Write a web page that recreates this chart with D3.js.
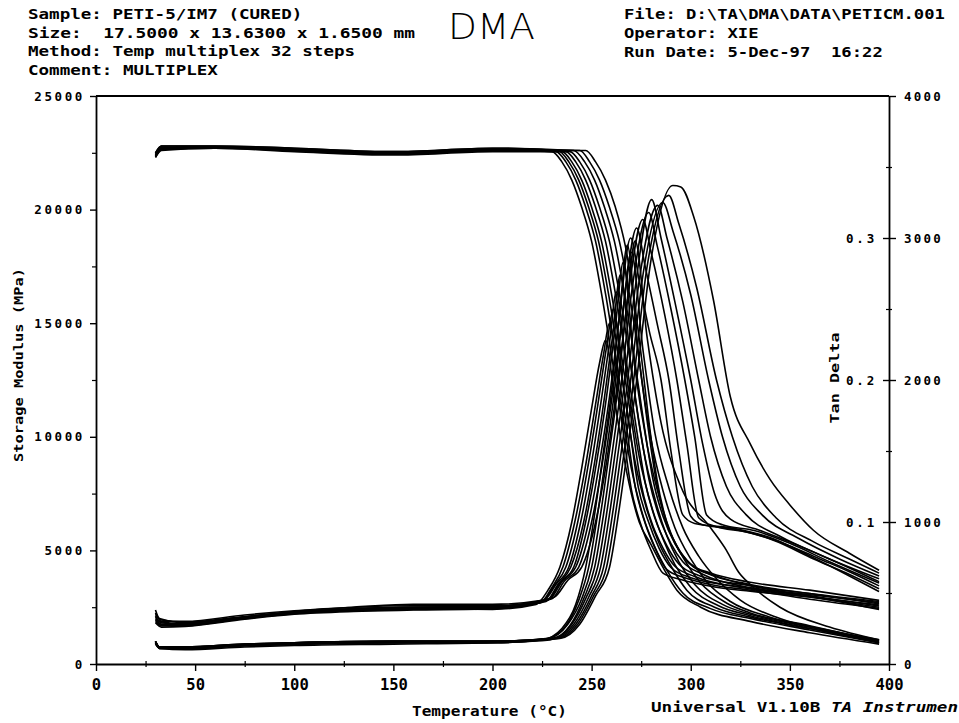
<!DOCTYPE html>
<html>
<head>
<meta charset="utf-8">
<script src="https://cdn.jsdelivr.net/npm/d3@7"></script>
<style>
body { margin: 0; background: #fff; }
svg { display: block; background: #fff; }
text { font-family: "DejaVu Sans Mono", "Liberation Mono", monospace; font-weight: bold; fill: #000; white-space: pre; }
</style>
</head>
<body>
<svg id="chart"></svg>
<script>
// axis ticks
var tempTicks = [0, 50, 100, 150, 200, 250, 300, 350, 400];
var modulusTicks = [0, 5000, 10000, 15000, 20000, 25000];
var lossTicks = [0, 1000, 2000, 3000, 4000];
var tanTicks = [0.1, 0.2, 0.3];

var headerLeft = ["Sample: PETI-5/IM7 (CURED)", "Size:  17.5000 x 13.6300 x 1.6500 mm", "Method: Temp multiplex 32 steps", "Comment: MULTIPLEX"];
var headerRight = ["File: D:\\TA\\DMA\\DATA\\PETICM.001", "Operator: XIE", "Run Date: 5-Dec-97  16:22"];

// storage modulus, [temp C, MPa] (left axis)
var storage1 = [[30,22400],[33,22700],[60,22750],[100,22650],[150,22500],[200,22650],[230,22550],[235,22100],[240,21300],[245,20100],[250,18600],[255,16300],[260,13600],[265,10800],[270,7700],[275,6100],[280,5000],[286,4000],[295,3720],[310,3420],[330,3200],[360,2950],[395,2600]];
var storage2 = [[30,22300],[33,22650],[60,22700],[100,22600],[150,22450],[200,22600],[232,22550],[237,22100],[242,21300],[247,20100],[252,18600],[257,16300],[262,13600],[267,10800],[272,7800],[277,6200],[282,5100],[288,4150],[297,3800],[310,3500],[330,3250],[360,2850],[395,2450]];
var storage3 = [[30,22500],[33,22800],[60,22800],[100,22700],[150,22550],[200,22700],[233,22600],[238.5,22100],[243.5,21300],[248.5,20100],[253.5,18600],[258.5,16300],[263.5,13600],[268.5,10800],[273.5,7800],[278.5,6300],[284,5100],[290,4250],[300,3800],[330,3350],[360,3050],[395,2700]];
var storage4 = [[30,22350],[33,22650],[60,22700],[100,22550],[150,22400],[200,22550],[235,22550],[240,22100],[245,21300],[250,20100],[255,18600],[260,16300],[265,13600],[270,10800],[275,7900],[280,6300],[286,5100],[292,4300],[302,3850],[330,3300],[360,2950],[395,2500]];
var storage5 = [[30,22450],[33,22750],[60,22750],[100,22650],[150,22500],[200,22650],[237,22550],[242,22100],[247,21300],[252,20100],[257,18600],[262,16300],[267,13600],[272,10700],[277,8000],[282,6400],[288,5200],[294,4400],[304,3900],[330,3450],[360,3100],[395,2750]];
var storage6 = [[30,22300],[33,22600],[60,22700],[100,22600],[150,22450],[200,22600],[239,22550],[244,22100],[249,21300],[254,20100],[259,18600],[264,16300],[269,13600],[274,10600],[279,8100],[284,6500],[290,5300],[296,4500],[306,3950],[330,3350],[360,3000],[395,2550]];
var storage7 = [[30,22500],[33,22800],[60,22800],[100,22700],[150,22550],[200,22700],[241,22600],[246.5,22100],[251.5,21300],[256.5,20100],[261.5,18600],[266.5,16300],[271.5,13500],[276.5,10500],[281,8100],[286,6500],[292,5300],[298,4550],[308,4000],[330,3500],[360,3100],[395,2650]];
var storage8 = [[30,22400],[33,22700],[60,22750],[100,22650],[150,22500],[200,22650],[244,22600],[249,22100],[254,21300],[259,20100],[264,18600],[269,16300],[273.5,13700],[278,10700],[282.5,8100],[287,6400],[293,5200],[300,4400],[310,4000],[330,3600],[360,3250],[395,2800]];
var storage9 = [[30,22350],[33,22700],[60,22750],[100,22600],[150,22450],[200,22600],[247,22600],[252,22100],[257,21300],[262,20100],[267,18400],[271,16300],[275,13600],[279,10600],[283,8100],[288,6200],[294,5000],[301,4300],[312,3900],[330,3450],[360,3000],[395,2400]];

// loss modulus, [temp C, MPa] (right axis)
var loss1 = [[30,380],[32,320],[45,290],[75,330],[100,360],[130,380],[160,390],[200,385],[222,420],[228,520],[234,683],[240,1000],[245,1380],[250,1800],[254,2120],[257,2280],[262,1820],[268,1330],[274,1000],[280,840],[286,680],[293,520],[305,400],[330,300],[360,220],[395,140]];
var loss2 = [[30,340],[32,300],[45,280],[75,320],[100,365],[130,390],[160,400],[200,400],[224,430],[230,540],[235.5,683],[241.5,1000],[247,1400],[252,1830],[256,2180],[259,2400],[264,1900],[270,1380],[276,1040],[282,820],[288,660],[296,500],[310,390],[330,320],[360,240],[395,150]];
var loss3 = [[30,300],[33,270],[45,270],[75,330],[100,370],[130,400],[160,410],[200,410],[225,440],[231,550],[237,683],[243,1000],[248.5,1420],[253.5,1860],[257.5,2230],[261,2500],[266,1960],[272,1420],[278,1080],[284,850],[290,690],[298,520],[312,400],[330,330],[360,250],[395,160]];
var loss4 = [[30,360],[33,300],[45,300],[75,345],[100,375],[130,400],[160,420],[200,420],[226,450],[232,560],[238.5,683],[244.5,1000],[250,1420],[255,1870],[259,2260],[262.5,2620],[268,2000],[274,1460],[280,1120],[286,880],[292,700],[300,540],[314,410],[330,340],[360,250],[395,150]];
var loss5 = [[30,310],[33,280],[45,285],[75,330],[100,360],[130,380],[160,390],[200,395],[227,440],[233,560],[239.5,683],[246,1000],[251.5,1420],[256.5,1880],[260.5,2300],[264.5,2740],[270,2080],[276,1520],[282,1160],[288,900],[294,720],[302,560],[316,420],[330,350],[360,260],[395,165]];
var loss6 = [[30,330],[33,290],[45,275],[75,320],[100,355],[130,375],[160,385],[200,390],[228,450],[234,570],[241,683],[247,1000],[252.5,1420],[257.5,1880],[262,2380],[266,2830],[271.5,2120],[278,1540],[284,1180],[290,920],[297,730],[305,570],[318,430],[330,360],[360,270],[395,160]];
var loss7 = [[30,350],[33,310],[45,295],[75,335],[100,365],[130,390],[160,400],[200,405],[229,460],[235,580],[242,683],[248.5,1000],[254,1420],[259,1880],[264,2450],[268,2950],[273.5,2200],[280,1580],[286,1220],[292,960],[300,740],[308,580],[320,440],[340,330],[365,250],[395,170]];
var loss8 = [[30,290],[33,260],[45,265],[75,315],[100,350],[130,370],[160,380],[200,390],[230,460],[236,580],[243.5,683],[250,1000],[255.5,1420],[260.5,1900],[265.5,2450],[270,2900],[276,2200],[282,1620],[289,1240],[296,960],[304,760],[313,600],[325,450],[345,320],[370,230],[395,155]];
var loss9 = [[30,320],[33,280],[45,280],[75,325],[100,360],[130,385],[160,400],[200,405],[231,470],[238,590],[245,683],[252,1000],[257.5,1420],[262.5,1920],[267.5,2500],[272,2980],[278,2300],[285,1700],[295,1250],[310,960],[318,800],[324,650],[330,560],[345,400],[370,260],[395,170]];

// tan delta, [temp C, tan d] (right inner axis)
var tan1 = [[30,0.016],[32,0.012],[45,0.011],[75,0.013],[100,0.014],[150,0.015],[200,0.015],[225,0.017],[235,0.025],[242,0.042],[247,0.068],[252,0.11],[256,0.15],[259.5,0.186],[264,0.245],[269.7,0.300],[274,0.27],[279,0.235],[285,0.20],[290,0.15],[296,0.105],[302,0.099],[320,0.096],[340,0.089],[360,0.076],[380,0.062],[395,0.051]];
var tan2 = [[30,0.015],[32,0.011],[45,0.011],[75,0.013],[100,0.014],[150,0.016],[200,0.016],[227,0.018],[237,0.027],[243.5,0.045],[248.5,0.068],[253.5,0.11],[257.5,0.15],[261,0.186],[266,0.25],[272.7,0.307],[277,0.28],[283,0.24],[289,0.20],[294,0.15],[300,0.104],[306,0.098],[322,0.095],[342,0.087],[362,0.074],[380,0.063],[395,0.053]];
var tan3 = [[30,0.0155],[32,0.012],[45,0.012],[75,0.014],[100,0.015],[150,0.016],[200,0.016],[228,0.018],[238,0.028],[245,0.046],[250,0.068],[255,0.11],[259,0.15],[262.5,0.186],[268,0.255],[275.8,0.313],[280,0.29],[287,0.245],[293,0.20],[298,0.155],[304,0.103],[312,0.097],[328,0.093],[345,0.086],[365,0.074],[380,0.065],[395,0.055]];
var tan4 = [[30,0.014],[32,0.011],[45,0.010],[75,0.012],[100,0.013],[150,0.014],[200,0.015],[229,0.017],[239,0.027],[246,0.046],[251.5,0.068],[256.5,0.11],[260.5,0.15],[264,0.186],[270,0.26],[278.8,0.318],[283,0.295],[290,0.25],[297,0.20],[302,0.16],[308,0.105],[316,0.098],[332,0.094],[350,0.085],[370,0.072],[395,0.057]];
var tan5 = [[30,0.016],[32,0.012],[45,0.012],[75,0.013],[100,0.015],[150,0.016],[200,0.016],[230,0.018],[240,0.028],[247,0.046],[253,0.068],[258,0.11],[262,0.15],[265.5,0.186],[272,0.265],[280.3,0.327],[285,0.30],[292,0.255],[300,0.20],[306,0.155],[312,0.12],[320,0.102],[335,0.094],[350,0.086],[370,0.074],[395,0.058]];
var tan6 = [[30,0.015],[32,0.012],[45,0.011],[75,0.013],[100,0.014],[150,0.015],[200,0.015],[231,0.018],[241,0.028],[248.5,0.047],[254.5,0.068],[259.5,0.11],[263.5,0.15],[267,0.186],[274,0.27],[283.3,0.323],[288,0.30],[296,0.255],[304,0.20],[310,0.16],[318,0.125],[328,0.105],[345,0.09],[365,0.077],[395,0.060]];
var tan7 = [[30,0.0155],[32,0.012],[45,0.012],[75,0.014],[100,0.015],[150,0.016],[200,0.016],[232,0.018],[242,0.028],[250,0.048],[256,0.068],[261,0.11],[265,0.15],[268.5,0.186],[276,0.275],[285.9,0.325],[291,0.305],[300,0.26],[309,0.20],[316,0.16],[325,0.125],[336,0.105],[355,0.088],[375,0.074],[395,0.062]];
var tan8 = [[30,0.015],[32,0.011],[45,0.011],[75,0.013],[100,0.014],[150,0.015],[200,0.016],[233,0.018],[243,0.028],[251,0.048],[257.5,0.068],[262.5,0.11],[266.5,0.15],[270,0.186],[278,0.28],[288.9,0.330],[294,0.31],[303,0.265],[313,0.20],[321,0.16],[331,0.125],[343,0.103],[362,0.086],[380,0.074],[395,0.064]];
var tan9 = [[30,0.016],[32,0.012],[45,0.012],[75,0.014],[100,0.015],[150,0.016],[200,0.016],[234,0.018],[244,0.028],[252,0.048],[259,0.068],[264,0.11],[268,0.15],[271.5,0.186],[280,0.285],[291,0.337],[295,0.336],[301.5,0.315],[311.5,0.256],[320,0.188],[330,0.155],[340,0.130],[350,0.112],[362,0.094],[380,0.078],[395,0.066]];

var storageCurves = [storage1, storage2, storage3, storage4, storage5, storage6, storage7, storage8, storage9];
var lossCurves = [loss1, loss2, loss3, loss4, loss5, loss6, loss7, loss8, loss9];
var tanCurves = [tan1, tan2, tan3, tan4, tan5, tan6, tan7, tan8, tan9];

var width = 959, height = 723;
var svg = d3.select("#chart").attr("width", width).attr("height", height);

var x = d3.scaleLinear().domain([0, 400]).range([96, 889]);
var yLeft = d3.scaleLinear().domain([0, 25000]).range([664, 96]);
var yRight = d3.scaleLinear().domain([0, 4000]).range([664, 96]);
var yTan = d3.scaleLinear().domain([0, 0.4]).range([664, 96]);

// header
var hl = svg.append("g");
hl.selectAll("text").data(headerLeft).enter().append("text")
  .attr("x", 28).attr("y", function(d, i) { return 19 + i * 18.7; })
  .attr("font-size", 14)
  .attr("textLength", function(d, i) { return i == 1 ? 387 : d.length * 10.55; })
  .attr("lengthAdjust", "spacingAndGlyphs")
  .text(function(d) { return d; });

var hr = svg.append("g");
hr.selectAll("text").data(headerRight).enter().append("text")
  .attr("x", 624).attr("y", function(d, i) { return 19 + i * 19; })
  .attr("font-size", 14)
  .attr("textLength", function(d) { return d.length * 10.35; })
  .attr("lengthAdjust", "spacingAndGlyphs")
  .text(function(d) { return d; });

svg.append("text").attr("x", 448).attr("y", 39)
  .style("font-family", "'DejaVu Sans', 'Liberation Sans', sans-serif")
  .style("font-weight", "200")
  .attr("font-size", 36).attr("textLength", 87).attr("lengthAdjust", "spacingAndGlyphs")
  .text("DMA");

// frame
svg.append("line").attr("x1", 96).attr("x2", 889).attr("y1", 96).attr("y2", 96)
  .attr("stroke", "#000").attr("stroke-width", 1.8);

function styleAxis(g) {
  g.select(".domain").attr("stroke", "#000").attr("stroke-width", 1.8);
  g.selectAll(".tick line").attr("stroke", "#000").attr("stroke-width", 1.4);
  g.selectAll(".tick text").style("font-family", "'DejaVu Sans Mono', monospace").style("font-weight", "bold");
}

// bottom axis
var gx = svg.append("g").attr("transform", "translate(0,664)")
  .call(d3.axisBottom(x).tickValues(tempTicks).tickSize(7).tickSizeOuter(0).tickPadding(8).tickFormat(d3.format("d")));
styleAxis(gx);
gx.selectAll(".tick text").attr("font-size", 15.5);
svg.append("g").attr("transform", "translate(0,667)")
  .call(d3.axisTop(x).tickValues(d3.range(25, 400, 50)).tickSize(6).tickSizeOuter(0).tickFormat(""))
  .call(function(g) { g.select(".domain").remove(); g.selectAll("line").attr("stroke", "#000").attr("stroke-width", 1.2); });

// left axis
var gy = svg.append("g").attr("transform", "translate(96,0)")
  .call(d3.axisLeft(yLeft).tickValues(modulusTicks).tickSize(6).tickSizeOuter(0).tickPadding(5).tickFormat(d3.format("d")));
styleAxis(gy);
gy.selectAll(".tick text").attr("font-size", 12.5).style("letter-spacing", "2.6px");
svg.append("g").attr("transform", "translate(96,0)")
  .call(d3.axisLeft(yLeft).tickValues(d3.range(2500, 25000, 5000)).tickSize(4).tickSizeOuter(0).tickFormat(""))
  .call(function(g) { g.select(".domain").remove(); g.selectAll("line").attr("stroke", "#000").attr("stroke-width", 1.2); });

// right axis (loss modulus outside, tan delta inside)
var gr = svg.append("g").attr("transform", "translate(889,0)")
  .call(d3.axisRight(yRight).tickValues(lossTicks).tickSize(7).tickSizeOuter(0).tickPadding(8).tickFormat(d3.format("d")));
styleAxis(gr);
gr.selectAll(".tick text").attr("font-size", 12.5).style("letter-spacing", "2.2px");
var gt = svg.append("g").attr("transform", "translate(889,0)")
  .call(d3.axisLeft(yTan).tickValues(tanTicks).tickSize(6).tickSizeOuter(0).tickPadding(6).tickFormat(d3.format(".1f")));
styleAxis(gt);
gt.select(".domain").remove();
gt.selectAll(".tick text").attr("font-size", 12.5).style("letter-spacing", "2.8px");
svg.append("g").attr("transform", "translate(892,0)")
  .call(d3.axisLeft(yRight).tickValues(d3.range(500, 4000, 1000)).tickSize(6).tickSizeOuter(0).tickFormat(""))
  .call(function(g) { g.select(".domain").remove(); g.selectAll("line").attr("stroke", "#000").attr("stroke-width", 1.2); });

// axis titles
svg.append("text").attr("transform", "translate(23,365) rotate(-90)")
  .attr("text-anchor", "middle").attr("font-size", 13)
  .attr("textLength", 194).attr("lengthAdjust", "spacingAndGlyphs")
  .text("Storage Modulus (MPa)");
svg.append("text").attr("transform", "translate(839,378) rotate(-90)")
  .attr("text-anchor", "middle").attr("font-size", 12.5)
  .attr("textLength", 91).attr("lengthAdjust", "spacingAndGlyphs")
  .text("Tan Delta");
svg.append("text").attr("x", 412).attr("y", 716).attr("font-size", 13.5)
  .attr("textLength", 155).attr("lengthAdjust", "spacingAndGlyphs")
  .text("Temperature (\u00b0C)");
var uni = svg.append("text").attr("x", 651).attr("y", 712).attr("font-size", 13.5)
  .attr("textLength", 307).attr("lengthAdjust", "spacingAndGlyphs");
uni.append("tspan").text("Universal V1.10B ");
uni.append("tspan").style("font-style", "italic").text("TA Instrumen");

// curves
var storageLine = d3.line().x(function(d) { return x(d[0]); }).y(function(d) { return yLeft(d[1]); }).curve(d3.curveMonotoneX);
var lossLine = d3.line().x(function(d) { return x(d[0]); }).y(function(d) { return yRight(d[1]); }).curve(d3.curveMonotoneX);
var tanLine = d3.line().x(function(d) { return x(d[0]); }).y(function(d) { return yTan(d[1]); }).curve(d3.curveMonotoneX);

var plot = svg.append("g").attr("fill", "none").attr("stroke", "#000").attr("stroke-width", 1.6);
plot.selectAll(".storage").data(storageCurves).enter().append("path").attr("class", "storage").attr("d", storageLine);
plot.selectAll(".loss").data(lossCurves).enter().append("path").attr("class", "loss").attr("d", lossLine);
plot.selectAll(".tan").data(tanCurves).enter().append("path").attr("class", "tan").attr("d", tanLine);
</script>
</body>
</html>
